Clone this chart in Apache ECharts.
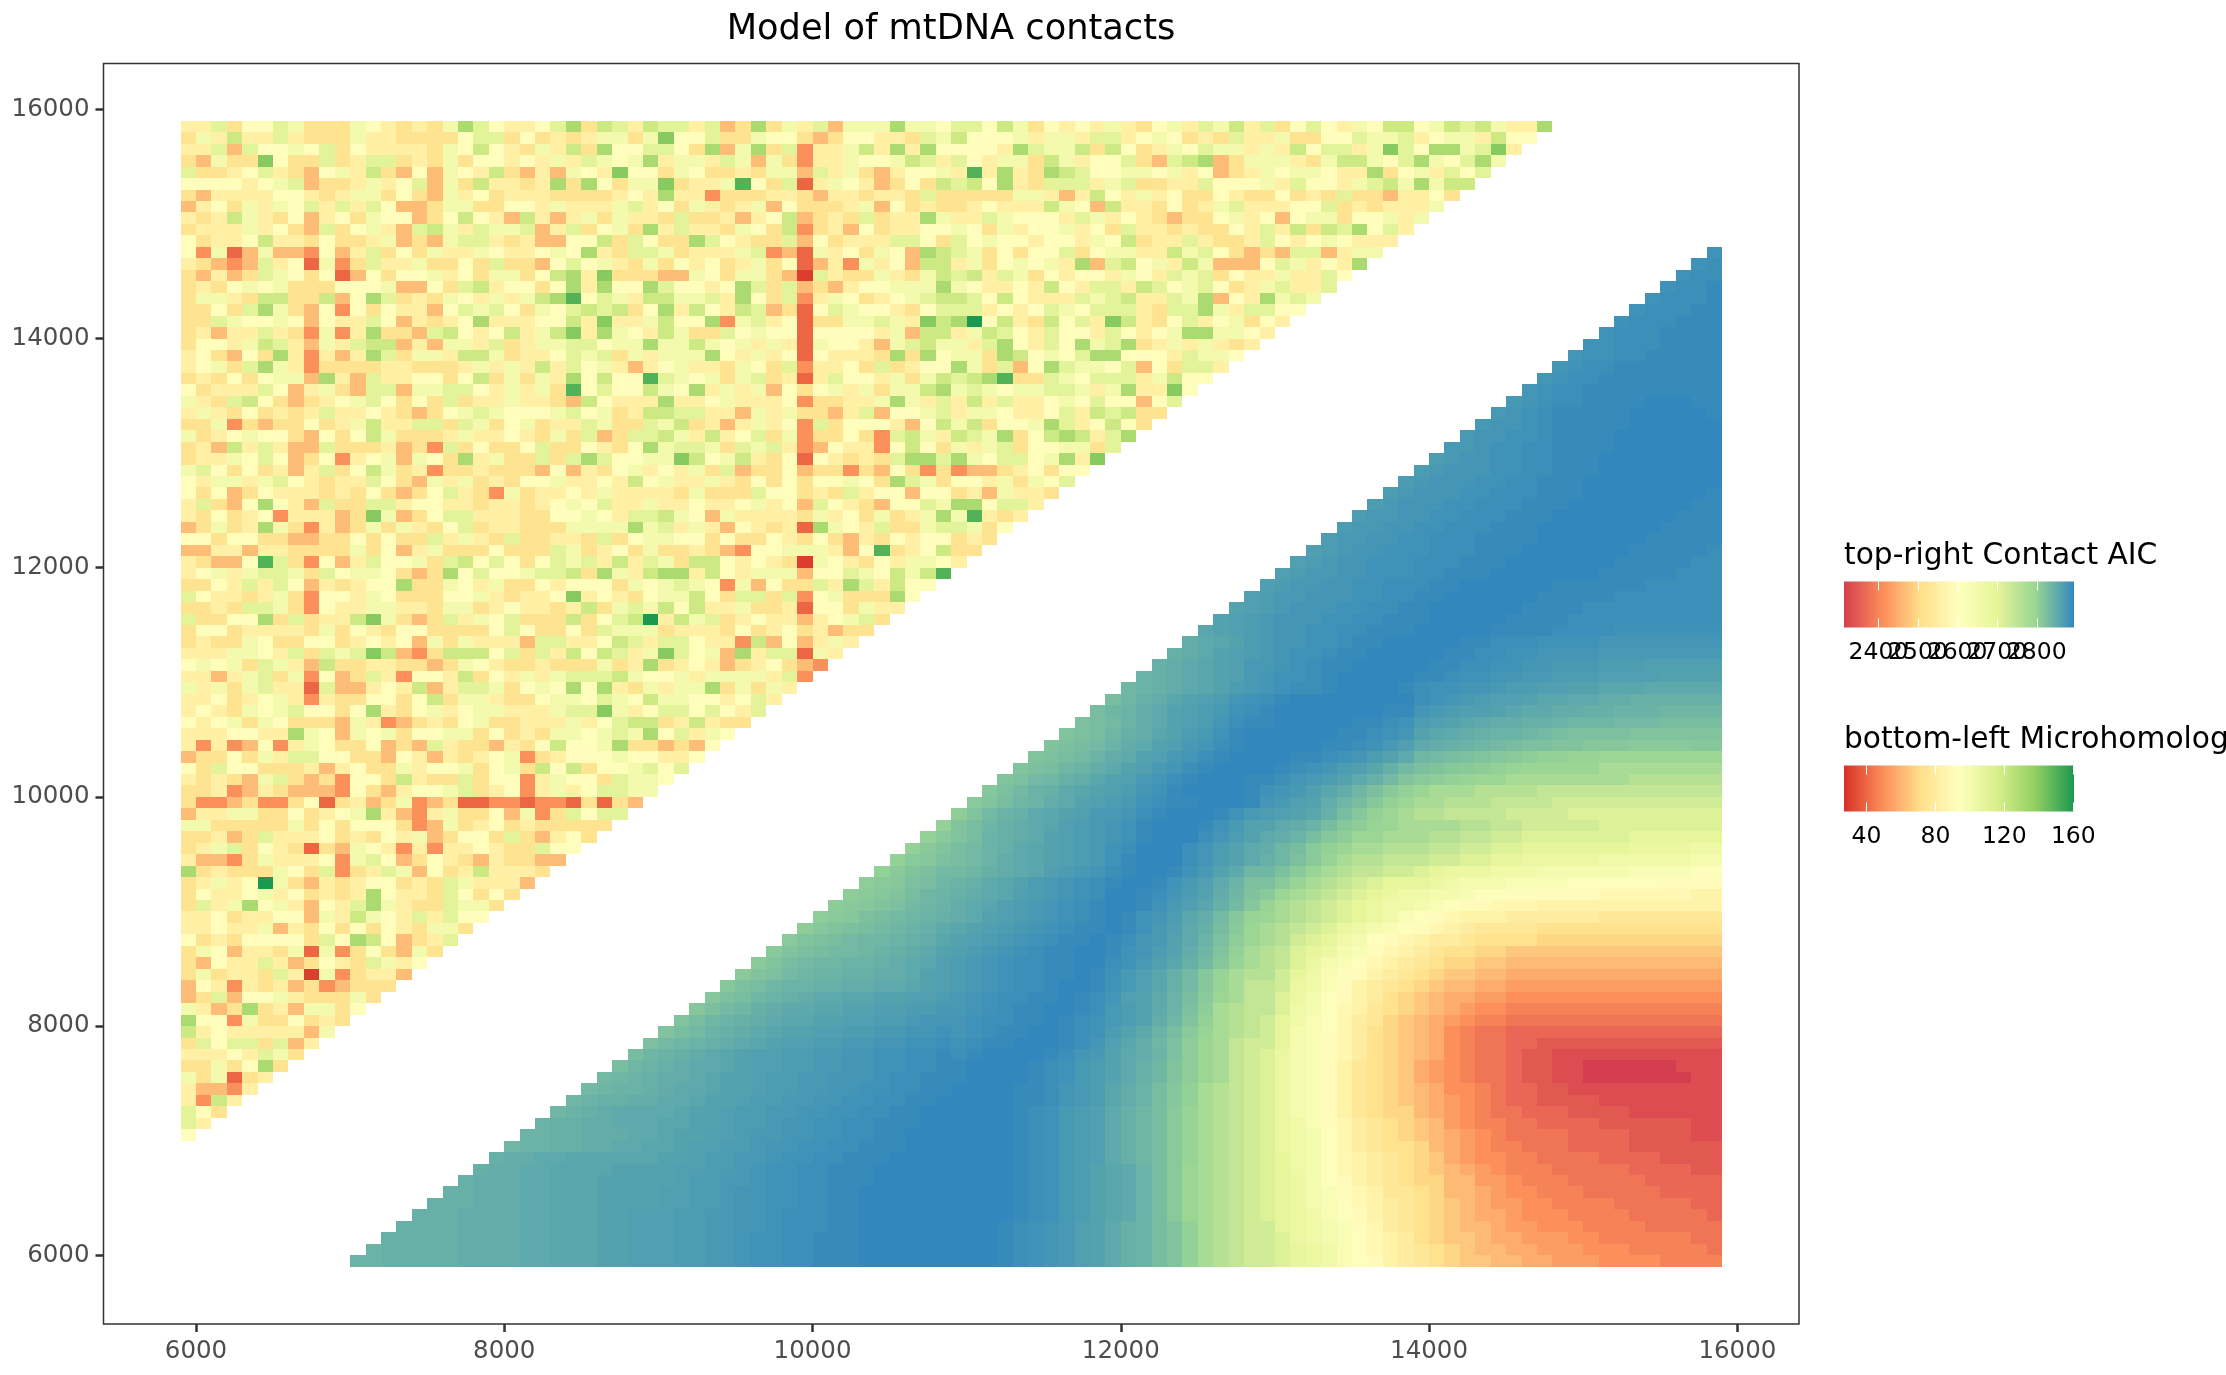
<!DOCTYPE html>
<html><head><meta charset="utf-8"><style>html,body{margin:0;padding:0;background:#fff}#c{width:2226px;height:1375px}</style>
<script src="https://cdn.jsdelivr.net/npm/echarts@6/dist/echarts.min.js"></script></head>
<body><div id="c"></div>
<script>
const axisTicks = [6000, 8000, 10000, 12000, 14000, 16000];
const aicTicks = [2400, 2500, 2600, 2700, 2800];
const aicLabelsA = [2400, 2600, 2800];
const aicLabelsB = [2500, 2700];
const microTicks = [40, 80, 120, 160];
const aicRange = [2313, 2894];
const microRange = [27, 160.4];
const spectral = ['#d53e4f','#fc8d59','#fee08b','#ffffbf','#e6f598','#99d594','#3288bd'];
const rdYlGn = ['#d73027','#fc8d59','#fee08b','#ffffbf','#d9ef8b','#91cf60','#1a9850'];

// Top-left triangle, read cell by cell. First row is y=15850, each row starts at x=5950.
// Each character is a hex index into microScale.
const microScale = [30, 40, 50, 62, 74, 83, 92, 101, 110, 120, 130, 140, 150, 160];
const microLevels = [
"5584668744 47654547a8 65568a4985 9885834a47 583777a776 8869746565 7546758795 8468657699 67989755a",
"4759558544 4755444468 8464545774 7b66844766 4346655487 9666757758 8567645485 5744668778 56775966",
"5583866768 4655554769 6547594a66 8864a37a48 255795a5a6 6665a87794 9645768775 75968857b8 6aa78b5",
"43744b6448 4588454746 6565758767 a577587374 2557667985 8657749756 684389a347 7754799768 a768a7",
"8445685436 7594363765 94353765b6 6476445477 3857435667 5c5a54a986 6776756345 7677655a46 75868",
"6666567834 4575683749 5545a4a647 7b4557c648 1576534649 896a548885 7844558666 7586657897 a799",
"4355556654 5774643756 4555444456 5a55244455 4355455484 4444775359 6575644654 4645484435 564",
"3564757685 8586334774 4665755578 5647545736 4445736454 4565559763 9554645785 5566845455 57",
"5459754635 6476634696 5395357475 5484453569 34548455a7 5587666587 5654344675 6367746675 7",
"4555756438 4675389758 7783584674 a585547649 2453645566 7647566756 4855454465 859498a685",
"6455695546 4457343788 5453366948 644a865448 3645558864 8676656657 6945585445 865676555",
"6271373326 3584647557 655676a548 8745557823 17564763a9 8746466846 7755978643 43883577",
"5432385617 2485574464 8443686754 7465645746 1352756399 57467675a3 8967597333 687565a",
"4353487646 1364667564 77469a5b44 4337647743 0854475479 8958746566 5765878465 575586",
"4546767444 6667336489 56646a5a66 a86656a848 343566777a 7655659658 8598678645 78558",
"4775499449 36a8454765 7579ac6875 997785a648 2576456789 9869655587 895587a365 a787",
"44648a7436 2646553687 8647689894 6a59659834 1687665468 8856568768 885488a758 866",
"4487667636 558635456a 5556695b55 7966a27856 14477875b9 ad69549685 b954685674 65",
"4535585427 25a4438965 69579b5a76 5974486766 1666657399 5798658665 86567aa776 5",
"4665798537 5899353775 8457788677 a779767575 1766537897 758a6586a7 8a45757545",
"564364a525 35a8477599 7455687847 5777a65756 165554a4a6 774a96768a a66658776",
"56748a7524 4445544457 5759586753 5675547648 2556484566 a74836a877 68364885",
"454646773a 5385566469 47475a6966 c876747845 1586657479 89ac448768 8857966",
"6455586357 4388377886 57574c6866 976a575736 467574779a 7876778875 7a55b6",
"7548964345 6786464845 5755439655 5a55675556 244557a758 5958556768 66368",
"5754645458 5565434678 7666786745 9988553757 4435836678 5776556859 8944",
"4472434464 5795588487 4674558744 8794535756 2846665369 794667a856 964",
"7456766436 4697444575 5654748348 8975956847 2446428975 987a469a95 8a",
"4539585338 4445342846 4468446546 a788748785 2365526964 7578466774 8",
"4557686346 25673764a5 744848a866 77b9679546 1654548aa8 a768867a5b",
"7864645358 4697452445 4443635467 5657483446 3442436424 233456466",
"6577578654 5586437574 5466755659 6755754646 466764a874 66574768",
"6463465554 5464346854 2745565755 5547444866 4548566366 4537554",
"58436a6538 4488566554 5545676855 7556556756 3865436687 aa6885",
"5464562555 34b7346885 5544667658 8976375555 475647457a 7c545",
"34745a7425 3474754684 554447777a 7857536545 1a76584478 8746",
"6646644334 4646448575 4844554846 7766464465 4643546566 454",
"3355355444 4746357444 6444874564 7445432667 77536c4569 44",
"54336c8426 3586674896 8646878595 8749965654 0765465776 5",
"5675788748 6776434a68 6678894a75 9aa5965777 366876979c",
"4465858635 4566a44765 7446566647 6787627364 485a85966",
"8655457426 6576444667 54556b5654 6779648848 267444a6",
"4454887426 5577554774 5655459478 7969557445 1664755",
"84466a4845 59b7434857 6844494689 d597845655 356784",
"4664555547 4654664444 6864464877 7455546456 45344",
"4544764466 4565637475 5538855698 5886552936 3575",
"5557765848 78b9324999 6848596985 7b8673a588 175",
"6767487539 4455443476 5445444745 a456534564 32",
"5535784726 3485266594 6575788897 6675777758 2",
"7574785518 3356593588 74676a6a54 7577a47475",
"5564567525 4466469477 5446776876 977665685",
"5654767866 46a5467567 7555788b75 68868658",
"6567476444 3752345467 4455575689 9459544",
"5556655a76 3767466774 6454776787 a68576",
"5252362576 4463438544 35469667a4 43436",
"3446475886 6443653545 6724566676 6556",
"6486644453 5644756674 6749694667 868",
"5454378434 2664954484 6625766487 76",
"4452354333 2643566784 5625756887 7",
"4223422461 4534723411 2212214143",
"3557744645 67a5325744 637248688",
"7744444746 4666423745 64544444",
"4453485556 4546573466 4843564",
"4578465414 3765252556 544866",
"5332475556 2786346543 54433",
"a454447648 2458736459 5554",
"45756d7435 4566454875 553",
"4655675645 45a6554864 64",
"4857a67536 58a7544877 4",
"5564556637 5976585866",
"5565573546 464654774",
"6454666648 6a963458",
"4763554717 2464374",
"4365585346 548756",
"4745548507 24553",
"3652545342 3444",
"3483667544 474",
"7534a45377 46",
"a662744645 4",
"9565555537",
"486884835",
"55565874",
"44746a4",
"747145",
"53325",
"5295",
"864",
"85",
"6"
];

// Bottom-right triangle. First row is y=5950, each row ends at x=15850.
// Digits and lowercase letters are base-36 levels across the AIC colour range (z = top).
// Uppercase letters are quarter steps of the same levels in the blue range: A = 29, B = 29.25 ... Y = 35.
const aicLevels = [
"LLMMMMMNN NNOOPPPQQR RRSSTTUVVW WXXXYYYYYY YYYXWVUTRQ OMLIGCsrqp ponmljihfe dcbaa99887 7766665555",
"LMMMMMNN NNOOPPPQQR RRSSTTUVVW WXXXYYYYYY YYYXWVUTRQ OMLIGCsrqp ponmljigfe dcba998877 7666555554",
"MMMMMNN NNOOPPPQQR RRSSTTUVVW WXXXYYYYYY YYYXWVUTRQ OMLIGCsrqp pomlkjigfe cbaa988777 6655555544",
"MMMMNN NNOOPPPQQR RRSSTTUUVW WWXXYYYYYY YYYXWVUTRQ OMLIGCsrqp pnmlkjhged cba9987766 6555544444",
"MMMNN NNOOPPPQQR RRSSTTUUVW WWXXYYYYYY YYYYXWVTSQ POLIEAsrqp onmljihfed cba9887666 5555444443",
"MMMN NNOOPPPQQQ QRRSSTUUVV WWXXYYYYYY YYYYXWVTSQ POLIEAsrqp onmkjigfed cba9877665 5554444433",
"MMN NNOOPPPQQQ QRRSSTUUVV WWXXYYYYYY YYYYXWVTSQ POLIEAsrqp onmkjhgfdd cb99876655 5444443333",
"MN NNOOPPPQQQ QQRSSTTUVV WWXXXYYYYY YYYYXWVTSQ POLIEAsrqp onmkihfedc bb99776555 4444433333",
"M NNOOPPPPQQ QQRRSSTUVV WWXXXYYYYY YYYYXWVTSQ POLIEAsrqp onlkigfedc ba98765554 4444333322",
"MNNOOPPPPP PQQRSSTTUV VWWXXXYYYY YYYYXWVTSR OMKIEBsrqp onlkigfedc ba87665544 4433332222",
"KLLMMNNOO PPQRRSSTUU VVWWXXXYYY YYYYXWVTSR OMKIEBsrqp omlkigedcc b987655444 3333222222",
"LLMMNNNO OPQQRRSTTU UVVWWXXYYY YYYYXWVTSR OMKIEBsrqp omlkigedcb a987654444 3333222211",
"LMMNNOO OPPQQRSSTU UVVWWXXXYY YYYYXWVTSR OMKIEBsrqp omljhgedcb a976554433 3322222211",
"KLMNOO OOPQQRSSTT UUVVWWXXYY YYYYXWVTSR OMKIEBsrqp omkjhfdcbb 9876544333 2222111111",
"KLMMN NOOPQQRSST TUUVVWWXXY YYYYXXWUTS PNLIFCsrqp omkjhfdcba 9876543322 2211111111",
"JKLL MNOOPQQRSS TTUUVVWWXX YYYYXXWUTS PNLIFCsrqp omkjhfdcba 9866543322 1111111111",
"JKL MNNOPQQRSS TTUUUVWWXX XYYYYXWVTS QOMKGDAsqp omkjhfdcba 8765443221 1000000011",
"IK LMNOOPQRRS STTUUVVWWX XYYYYXWVTS QOMKGDAsqp omkjhfdcba 8765443221 1000000111",
"I KLMNOPQRRS STTUUVVWWX WXYYYYXWUT QONLHDAsqp omkjhgecba 9865443221 1111111111",
"HJKLMNOPQR RSSTTUUVVW VWXXYYYXWU RPNKHDAsqp pnkjhgecba 9865443322 2222222222",
"GIJLMNOPQ QRRSSTTUUV UVWXXYYXWV SQOLIEBsrq pnkjigecba 9865443333 3333333333",
"GIKLMNOP PQQRRSSTUU UVWWXXYXWV TSQNKGCsrq pnljigedba 9876554444 4444444444",
"FHJKMNO OPPQQRRSST TUVWXXYYXW TSQOLHDsrq qolkigfdcb a987665555 5555555555",
"FHIKLM NOOPPQQRRS TUVWWXXYXW URQOLIEAsq qomkihfecb a988776666 6666666666",
"FHIKL LMMNNOOPQR STUVWWXYYX VTRPMJFBsq qpmljhfedc ba99887777 7777777777",
"EGHJ KLLMMNNOQR STUVWWXXYX VTRPMJFBsr rpnljihfed cbaa998888 8888888888",
"EGI JKKLLMNOPR STUVWWXXYY WVTRPMJFBs rqomkjigfe dcbbaa9999 9999999999",
"EG HIJJKLMNOQ RSTUVWXXYY XVUSQNKGCs rqonmkjhgf edccbbaaaa aaaaaaaaaa",
"E GHIJKKLMNP QRSTUVWXXY XWUTQOLHDA srponlkihg feedccccbb bbbbbbbbbb",
"DFGHIJKLMO PQRSTUVWXX YXVTROMIEA srqpomlkji hgfeddddcc cccccccccc",
"DEFHIJKLM NOQRSTUVWX YXVUSPNJFB tsrqponmlj ihgfffeeee eedddddddd",
"DEFGHJKL NOPRSTUVWX YYXVTRPMJF Bsrqponmll kjihhgggff ffffffffff",
"DEFGIKL MNOPRSTUVW YYXWUSQNKG EAsrqponml lkkjiiiihh hhggggggff",
"DEFHIK LMOPQSTUVW XYYXVTROLH HEBsrqponn nmlkkkjjjj iiiiiihhhh",
"CEGHJ JKMNOPRSTU WXYYXVTQOK KHEBsrqqpp onmmmlllkk kkkkjjjjii",
"CEFH IJLNOPQRST VXYYYWUSQO MKHEBsrrqq qppoonnmmm mmllllllkk",
"CEG IJLMOPQRST VWYYYWUSQO NKIECAssrr rqqppoonnn nnnnmmmmll",
"CE GILMNOQRST UVXYYYWUSQ ONLIFDAAss srrqqppooo oooonnnnnn",
"C GIKMNOPRST UVXYYYXVTQ QONLIFDBAs sssrrqqppp ppoooooooo",
"DGJLMOPQRT TUWXYYYXVT SRQPMIFCAs rrqqqqpppp oooooooooo",
"EGIKLNOQR STVWXXYYYX UTRQNKIFCA ssrrrqqqqp pppppppppp",
"FHJLMOPQ RSUVXYYYYX VUTRPNKHEC Asssrrrrqq qqqqqqqqqq",
"GHJKMNP QRTUWXYYYX XWUTSQOMJG EDCBAAssss ssssrrrrrr",
"GHIKLN OQRTUWXYYY YXWVUSRPMJ HGFEDCBAAA AAssssssss",
"GHIJL NOQRTUWXYY YYXXWVUSQO KJIHGFEDCC BBAAAAAAAA",
"GHIJ LNOQRTUWXY YYYYXXWVTR ONMLKJIHHG GFFFEEEEFF",
"GHI KMNPQSTVXY YYYYYXXWVU QPONMLLKJI HHHHGGGGGG",
"HI JLNOQRSUWX XYYYYYXXWV SRQPONNMML KKKJJJIIII",
"I KLNOQRSTVW XYYYYYYYXX UTSRRQPOON NMMLLLKKKK",
"IKMNPQRSUV WXYYYYYYYY WVUTSRRQPP OONNMMMMMM",
"KLMNOPQST UVWWXYYYYX WVVUUTSSRR QQPPPOOOOO",
"LMNOPQRT UVVWXYYYYY XXWVVUUTTS SSRRRRQQQQ",
"MNOPQRT TUVWXXYYYY YXXWWVVUUT TTSSSRRRRR",
"MNOQRS TUVVWXXYYY YYXXWWVVUU UUTTTTTTTT",
"NOPQS TUUVVWXXYY YYYXXWWWVV VVUUUUUUUU",
"PQRS TUUVVWWXXX YYYYYXXXXW WWWVVVVVVV",
"QRS TUUUVVWWXX XYYYYYXXXX WWWWWWWWWW",
"QR STUUUVVWWX XYYYYYYXXX XWWWWWWWWW",
"R STTUUUVVWW XXYYYYYYXX XXXWWWWWWW",
"RSTTUUVVWW WXXYYYYYYX XXXXXWWWWW",
"RSTTUUVVV WWXXXYYYYY YYXXXXXWWW",
"RSTUUVVV WWWXXXYYYY YYYXXXXXWW",
"RSTUUVV VWWWXXXYYY YYYYXXXXXW",
"STTUUV VWWWXXXXYY YYYYYXXXXX",
"STTUU VVWWWXXXYY YYYYYYXXXX",
"STTU UVVWWWXXXY YYYYYYYXXX",
"STU UUVVWWWXXX YYYYYYYYXX",
"ST UUUVVWWWXX XYYYYYYYYX",
"S TUUUVVWWXX XYYYYYYYYY",
"STUUUVVWWX XXYYYYYYYY",
"STUUVVWWX XXYYYYYYYY",
"TTUVVWWX XXXYYYYYYY",
"TUUVVWX XXXYYYYYYY",
"TUUVWX XXXXYYYYYY",
"TUVWX XXXXYYYYYX",
"TUVW WXXXXYYYXX",
"UVW WXXXXXXXXX",
"UV WWXXXXXXXX",
"U VWWXXXXXXX",
"UVVWWXXXXX",
"VVWWWXXXX",
"VWWWXXXX",
"VWWWXXX",
"VWWWXX",
"VWWWX",
"VWWX",
"VWW",
"VW",
"V"
];

const microData = [];
microLevels.forEach((row, i) => {
  const cells = row.replace(/ /g, '').slice(0, 89 - i);
  [...cells].forEach((ch, c) => microData.push([5950 + 100 * c, 15850 - 100 * i, microScale[parseInt(ch, 16)]]));
});
function aicLevel(ch) {
  return ch >= 'A' && ch <= 'Y' ? 29 + 0.25 * (ch.charCodeAt(0) - 65) : parseInt(ch, 36);
}
const aicData = [];
aicLevels.forEach((row, j) => {
  const cells = row.replace(/ /g, '');
  const n = cells.length;
  [...cells].forEach((ch, c) => {
    const col = 100 - n + c;
    if (col >= 11 + j) aicData.push([5950 + 100 * col, 5950 + 100 * j, aicRange[0] + aicLevel(ch) * (aicRange[1] - aicRange[0]) / 35]);
  });
});

const font = 'DejaVu Sans';
function cell(params, api) {
  const x = api.value(0), y = api.value(1);
  const a = api.coord([x - 50, y + 50]), b = api.coord([x + 50, y - 50]);
  const l = Math.round(a[0]), t = Math.round(a[1]);
  return {type: 'rect', shape: {x: l, y: t, width: Math.round(b[0]) - l, height: Math.round(b[1]) - t}, style: {fill: api.visual('color')}};
}
function gradient(colors) {
  return new echarts.graphic.LinearGradient(0, 0, 1, 0, colors.map((c, i) => ({offset: i / (colors.length - 1), color: c})));
}
// The top axis of a colour bar can carry labels too: a negative margin drops them below the bar.
function barAxis(grid, range, ticks, position, labels, margin) {
  return {
    type: 'value', gridIndex: grid, position, min: range[0], max: range[1], silent: true,
    axisLine: {show: false, onZero: false}, splitLine: {show: false},
    axisTick: {show: true, inside: true, length: 9, customValues: ticks, lineStyle: {color: '#ffffff', width: 1}},
    axisLabel: {show: !!labels, interval: 0, customValues: labels || ticks, showMinLabel: true, showMaxLabel: true, hideOverlap: false, color: '#000000', fontFamily: font, fontSize: 23.5, margin, formatter: v => String(v)}
  };
}
function mainAxis(pos, margin) {
  return {
    type: 'value', position: pos, min: 5400, max: 16400, silent: true,
    axisLine: {show: false, onZero: false}, splitLine: {show: false},
    axisTick: {show: true, length: 8, customValues: axisTicks, lineStyle: {color: '#333333', width: 2.5}},
    axisLabel: {interval: 0, customValues: axisTicks, showMinLabel: true, showMaxLabel: true, color: '#4d4d4d', fontFamily: font, fontSize: 24.5, margin, formatter: v => String(v)}
  };
}
const chart = echarts.init(document.getElementById('c'), null, {renderer: 'canvas', width: 2226, height: 1375});
const titleStyle = size => ({fontFamily: font, fontWeight: 'normal', fontSize: size, color: '#000000'});
chart.setOption({
  animation: false,
  backgroundColor: '#ffffff',
  title: [
    {text: 'Model of mtDNA contacts', left: 951, top: 12, padding: 0, textAlign: 'center', textStyle: titleStyle(35.2)},
    {text: 'top-right Contact AIC', left: 1844, top: 541, padding: 0, textStyle: titleStyle(29.7)},
    {text: 'bottom-left Microhomology', left: 1844, top: 725, padding: 0, textStyle: titleStyle(29.7)}
  ],
  grid: [
    {left: 103.5, top: 63.5, width: 1695.5, height: 1260.5, show: true, backgroundColor: '#ffffff', borderColor: '#333333', borderWidth: 1.5},
    {left: 1844, top: 581.5, width: 230, height: 46, show: true, borderWidth: 0, backgroundColor: gradient(spectral)},
    {left: 1844, top: 765.5, width: 230, height: 46, show: true, borderWidth: 0, backgroundColor: gradient(rdYlGn)}
  ],
  xAxis: [
    mainAxis('bottom', 15),
    barAxis(1, aicRange, aicTicks, 'bottom', aicLabelsA, 13),
    barAxis(1, aicRange, aicTicks, 'top', aicLabelsB, -83.5),
    barAxis(2, microRange, microTicks, 'bottom', microTicks, 13),
    barAxis(2, microRange, microTicks, 'top', null, 13)
  ],
  yAxis: [
    mainAxis('left', 14),
    {type: 'value', gridIndex: 1, show: false, min: 0, max: 1},
    {type: 'value', gridIndex: 2, show: false, min: 0, max: 1}
  ],
  visualMap: [
    {show: false, seriesIndex: 0, dimension: 2, min: microRange[0], max: microRange[1], inRange: {color: rdYlGn}},
    {show: false, seriesIndex: 1, dimension: 2, min: aicRange[0], max: aicRange[1], inRange: {color: spectral}}
  ],
  series: [
    {name: 'Microhomology', type: 'custom', renderItem: cell, data: microData, encode: {x: 0, y: 1}, progressive: 0, silent: true, clip: false},
    {name: 'Contact AIC', type: 'custom', renderItem: cell, data: aicData, encode: {x: 0, y: 1}, progressive: 0, silent: true, clip: false}
  ]
});
</script></body></html>
